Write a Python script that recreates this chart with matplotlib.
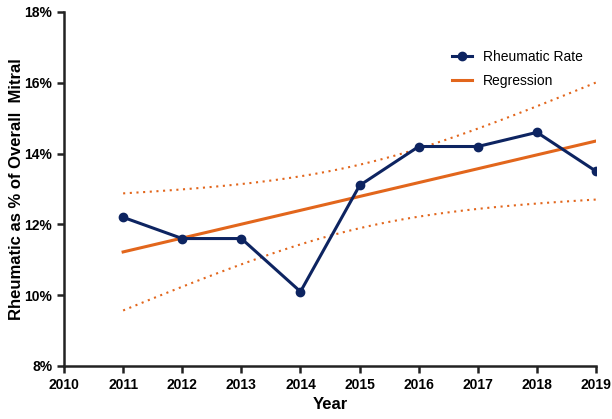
import numpy as np
import matplotlib
matplotlib.use("Agg")
import matplotlib.pyplot as plt
from matplotlib.ticker import FuncFormatter

plt.rcParams['font.family'] = ['Liberation Sans', 'DejaVu Sans']

years = [2011, 2012, 2013, 2014, 2015, 2016, 2017, 2018, 2019]
rate = [12.2, 11.6, 11.6, 10.1, 13.1, 14.2, 14.2, 14.6, 13.5]
xticks = list(range(2010, 2020))
yticks = [8, 10, 12, 14, 16, 18]

navy = '#0d2461'
orange = '#e2661c'

# linear regression with 95% confidence band
x = np.array(years, dtype=float)
y = np.array(rate)
slope, intercept = np.polyfit(x, y, 1)
n = len(x)
resid = y - (slope * x + intercept)
s = np.sqrt(np.sum(resid**2) / (n - 2))
t_crit = 2.3646  # t(0.975, df=7)
xs = np.linspace(x.min(), x.max(), 100)
fit = slope * xs + intercept
half = t_crit * s * np.sqrt(1 / n + (xs - x.mean())**2 / np.sum((x - x.mean())**2))

fig = plt.figure(figsize=(6.12, 4.19), dpi=100)
ax = fig.add_axes([0.1046, 0.1265, 0.8694, 0.8449])

ax.plot(xs, fit + half, color=orange, lw=1.5, ls=(0, (1, 2.2)))
ax.plot(xs, fit - half, color=orange, lw=1.5, ls=(0, (1, 2.2)))
l_reg, = ax.plot(xs, fit, color=orange, lw=2.2, label='Regression', zorder=3)
l_rate, = ax.plot(years, rate, color=navy, lw=2.2, marker='o', ms=6, label='Rheumatic Rate', zorder=4)

ax.set_xlim(2010, 2019)
ax.set_ylim(8, 18)
ax.set_xticks(xticks)
ax.set_yticks(yticks)
ax.yaxis.set_major_formatter(FuncFormatter(lambda v, p: f'{v:.0f}%'))
for lab in ax.get_xticklabels() + ax.get_yticklabels():
    lab.set_fontweight('bold')
ax.tick_params(axis='both', labelsize=10, width=1.8, length=5, direction='out', color='#222222')
ax.spines['top'].set_visible(False)
ax.spines['right'].set_visible(False)
for sp in ['left', 'bottom']:
    ax.spines[sp].set_linewidth(1.8)
    ax.spines[sp].set_color('#222222')

ax.set_xlabel('Year', fontsize=12, fontweight='bold', labelpad=4)
ax.set_ylabel('Rheumatic as % of Overall  Mitral', fontsize=12, fontweight='bold')
ax.yaxis.set_label_coords(-0.075, 0.5)

ax.legend(handles=[l_rate, l_reg], loc='upper left', bbox_to_anchor=(0.730, 0.895),
          bbox_transform=fig.transFigure, frameon=False, fontsize=10,
          handlelength=1.4, borderaxespad=0, labelspacing=0.75)

fig.savefig('out.png', dpi=100)
